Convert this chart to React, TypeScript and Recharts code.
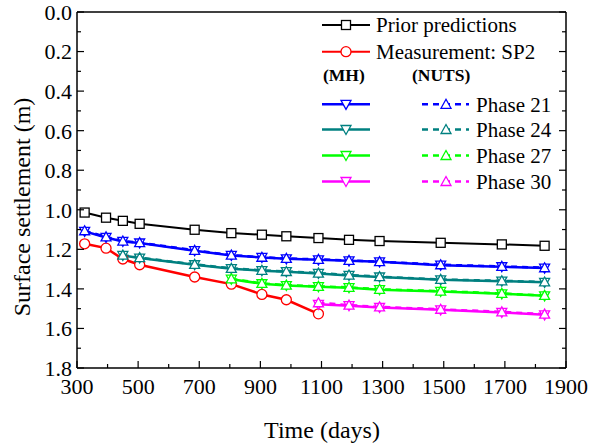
import React from 'react';
import { LineChart, Line, XAxis, YAxis, Customized } from 'recharts';

const days = [325, 395, 450, 505, 685, 805, 905, 985, 1090, 1190, 1290, 1490, 1690, 1830];
const prior = [1.014, 1.04, 1.056, 1.071, 1.101, 1.118, 1.126, 1.134, 1.143, 1.152, 1.158, 1.167, 1.175, 1.182];
const measured = [1.172, 1.194, 1.249, 1.278, 1.34, 1.376, 1.428, 1.455, 1.526, null, null, null, null, null];
const mh21 = [1.109, 1.14, 1.16, 1.168, 1.207, 1.231, 1.241, 1.248, 1.253, 1.258, 1.263, 1.28, 1.288, 1.295];
const nuts21 = [1.106, 1.137, 1.158, 1.166, 1.205, 1.229, 1.24, 1.246, 1.251, 1.256, 1.262, 1.278, 1.286, 1.293];
const mh24 = [null, null, 1.231, 1.244, 1.278, 1.298, 1.308, 1.313, 1.322, 1.332, 1.34, 1.354, 1.361, 1.367];
const nuts24 = [null, null, 1.229, 1.242, 1.276, 1.296, 1.306, 1.312, 1.32, 1.33, 1.338, 1.352, 1.359, 1.365];
const mh27 = [null, null, null, null, null, 1.351, 1.374, 1.383, 1.389, 1.394, 1.404, 1.413, 1.425, 1.435];
const nuts27 = [null, null, null, null, null, 1.349, 1.372, 1.381, 1.387, 1.392, 1.402, 1.411, 1.423, 1.433];
const mh30 = [null, null, null, null, null, null, null, null, 1.478, 1.485, 1.494, 1.506, 1.519, 1.531];
const nuts30 = [null, null, null, null, null, null, null, null, 1.47, 1.482, 1.491, 1.503, 1.516, 1.528];

const xTicks = [300, 400, 500, 600, 700, 800, 900, 1000, 1100, 1200, 1300, 1400, 1500, 1600, 1700, 1800, 1900];
const yTicks = [0, 0.1, 0.2, 0.3, 0.4, 0.5, 0.6, 0.7, 0.8, 0.9, 1.0, 1.1, 1.2, 1.3, 1.4, 1.5, 1.6, 1.7, 1.8];

const phases = [
  { name: 'Phase 21', color: '#0000ff' },
  { name: 'Phase 24', color: '#008080' },
  { name: 'Phase 27', color: '#00ff00' },
  { name: 'Phase 30', color: '#ff00ff' },
];

const data = days.map((d, i) => ({
  day: d,
  prior: prior[i],
  meas: measured[i],
  mh21: mh21[i],
  nuts21: nuts21[i],
  mh24: mh24[i],
  nuts24: nuts24[i],
  mh27: mh27[i],
  nuts27: nuts27[i],
  mh30: mh30[i],
  nuts30: nuts30[i],
}));

const FONT = "'Liberation Serif', 'Times New Roman', serif";
const TM = 10;

const isMajorX = (v: number) => (v - 300) % 200 === 0;
const isMajorY = (v: number) => Math.round(v * 10) % 2 === 0;

const BottomTick = (p: any) => {
  const v = p.payload.value;
  const ay = p.y - TM;
  const major = isMajorX(v);
  return (
    <g>
      <line x1={p.x} x2={p.x} y1={ay} y2={ay - (major ? 7 : 4)} stroke="#000" strokeWidth={1.2} />
      {major && (
        <text x={p.x} y={p.y} dy="0.71em" textAnchor="middle" fontSize={22} fontFamily={FONT} fill="#000">
          {v}
        </text>
      )}
    </g>
  );
};

const TopTick = (p: any) => {
  const v = p.payload.value;
  const ay = p.y + TM;
  return <line x1={p.x} x2={p.x} y1={ay} y2={ay + (isMajorX(v) ? 7 : 4)} stroke="#000" strokeWidth={1.2} />;
};

const LeftTick = (p: any) => {
  const v = p.payload.value;
  const ax = p.x + TM;
  const major = isMajorY(v);
  return (
    <g>
      <line x1={ax} x2={ax + (major ? 7 : 4)} y1={p.y} y2={p.y} stroke="#000" strokeWidth={1.2} />
      {major && (
        <text x={ax - 5} y={p.y} dy="0.36em" textAnchor="end" fontSize={22} fontFamily={FONT} fill="#000">
          {v.toFixed(1)}
        </text>
      )}
    </g>
  );
};

const RightTick = (p: any) => {
  const v = p.payload.value;
  const ax = p.x - TM;
  return <line x1={ax} x2={ax - (isMajorY(v) ? 7 : 4)} y1={p.y} y2={p.y} stroke="#000" strokeWidth={1.2} />;
};

const square = (cx: number, cy: number, key?: any) => (
  <rect key={key} x={cx - 4.5} y={cy - 4.5} width={9} height={9} fill="#fff" stroke="#000" strokeWidth={1.3} />
);
const circle = (cx: number, cy: number, color: string, key?: any) => (
  <circle key={key} cx={cx} cy={cy} r={5} fill="#fff" stroke={color} strokeWidth={1.3} />
);
const downTri = (cx: number, cy: number, color: string, key?: any) => (
  <polygon
    key={key}
    points={`${cx - 5},${cy - 4} ${cx + 5},${cy - 4} ${cx},${cy + 5}`}
    fill="#fff"
    stroke={color}
    strokeWidth={1.3}
  />
);
const upTri = (cx: number, cy: number, color: string, key?: any) => (
  <polygon
    key={key}
    points={`${cx - 5},${cy + 4} ${cx + 5},${cy + 4} ${cx},${cy - 5}`}
    fill="#fff"
    stroke={color}
    strokeWidth={1.3}
  />
);

const makeDot = (kind: string, color: string) => (p: any) => {
  if (p.cy == null || p.value == null || isNaN(p.cy)) return <g key={p.key} />;
  if (kind === 'square') return square(p.cx, p.cy, p.key);
  if (kind === 'circle') return circle(p.cx, p.cy, color, p.key);
  if (kind === 'down') return downTri(p.cx, p.cy, color, p.key);
  return upTri(p.cx, p.cy, color, p.key);
};

const LegendAndTitles = () => {
  const rowY = [104.3, 129.5, 155.5, 181.5];
  return (
    <g fontFamily={FONT}>
      <text x={22} y={207} transform="rotate(-90 22 207)" textAnchor="middle" dy="0.35em" fontSize={24} fill="#000">
        Surface settlement (m)
      </text>
      <text x={322} y={430} textAnchor="middle" dy="0.35em" fontSize={24} fill="#000">
        Time (days)
      </text>

      <line x1={322} x2={370} y1={25} y2={25} stroke="#000" strokeWidth={2} />
      {square(346, 25)}
      <text x={376} y={25} dy="0.35em" fontSize={21} fill="#000">Prior predictions</text>

      <line x1={322} x2={370} y1={51.7} y2={51.7} stroke="#ff0000" strokeWidth={2} />
      {circle(346, 51.7, '#ff0000')}
      <text x={376} y={51.7} dy="0.35em" fontSize={21} fill="#000">Measurement: SP2</text>

      <text x={323} y={75} dy="0.35em" fontSize={17.5} fontWeight="bold" fill="#000">(MH)</text>
      <text x={412} y={75} dy="0.35em" fontSize={17.5} fontWeight="bold" fill="#000">(NUTS)</text>

      {phases.map((ph, i) => (
        <g key={ph.name}>
          <line x1={322} x2={370} y1={rowY[i]} y2={rowY[i]} stroke={ph.color} strokeWidth={2.5} />
          {downTri(346, rowY[i], ph.color)}
          <line x1={422} x2={469} y1={rowY[i]} y2={rowY[i]} stroke={ph.color} strokeWidth={2.5} strokeDasharray="6 5" />
          {upTri(446, rowY[i], ph.color)}
          <text x={476} y={rowY[i]} dy="0.35em" fontSize={21} fill="#000">{ph.name}</text>
        </g>
      ))}
    </g>
  );
};

const series = [
  { mh: 'mh21', nuts: 'nuts21', color: '#0000ff' },
  { mh: 'mh24', nuts: 'nuts24', color: '#008080' },
  { mh: 'mh27', nuts: 'nuts27', color: '#00ff00' },
  { mh: 'mh30', nuts: 'nuts30', color: '#ff00ff' },
];

export default function App() {
  return (
    <div style={{ position: 'absolute', left: 0, top: 0, background: '#fff' }}>
      <LineChart width={592} height={443} data={data} margin={{ top: 0, right: 0, bottom: 0, left: 0 }}>
        <XAxis
          dataKey="day"
          type="number"
          domain={[300, 1900]}
          ticks={xTicks}
          interval={0}
          allowDataOverflow
          height={75}
          tickSize={0}
          tickMargin={TM}
          tickLine={false}
          tick={<BottomTick />}
          axisLine={{ stroke: '#000', strokeWidth: 1.5 }}
        />
        <XAxis
          xAxisId="top"
          orientation="top"
          type="number"
          domain={[300, 1900]}
          ticks={xTicks}
          interval={0}
          allowDataOverflow
          height={12}
          tickSize={0}
          tickMargin={TM}
          tickLine={false}
          tick={<TopTick />}
          axisLine={{ stroke: '#000', strokeWidth: 1.5 }}
        />
        <YAxis
          type="number"
          reversed
          domain={[0, 1.8]}
          ticks={yTicks}
          interval={0}
          allowDataOverflow
          width={77}
          tickSize={0}
          tickMargin={TM}
          tickLine={false}
          tick={<LeftTick />}
          axisLine={{ stroke: '#000', strokeWidth: 1.5 }}
        />
        <YAxis
          yAxisId="right"
          orientation="right"
          type="number"
          reversed
          domain={[0, 1.8]}
          ticks={yTicks}
          interval={0}
          allowDataOverflow
          width={26}
          tickSize={0}
          tickMargin={TM}
          tickLine={false}
          tick={<RightTick />}
          axisLine={{ stroke: '#000', strokeWidth: 1.5 }}
        />

        <Line dataKey="prior" stroke="#000" strokeWidth={2} dot={makeDot('square', '#000')} isAnimationActive={false} />
        <Line dataKey="meas" stroke="#ff0000" strokeWidth={2.5} dot={makeDot('circle', '#ff0000')} isAnimationActive={false} />
        {series.map((s) => (
          <Line
            key={s.mh}
            dataKey={s.mh}
            stroke={s.color}
            strokeWidth={2.5}
            dot={makeDot('down', s.color)}
            isAnimationActive={false}
          />
        ))}
        {series.map((s) => (
          <Line
            key={s.nuts}
            dataKey={s.nuts}
            stroke={s.color}
            strokeWidth={2.5}
            strokeDasharray="6 5"
            dot={makeDot('up', s.color)}
            isAnimationActive={false}
          />
        ))}
        <Customized component={<LegendAndTitles />} />
      </LineChart>
    </div>
  );
}
